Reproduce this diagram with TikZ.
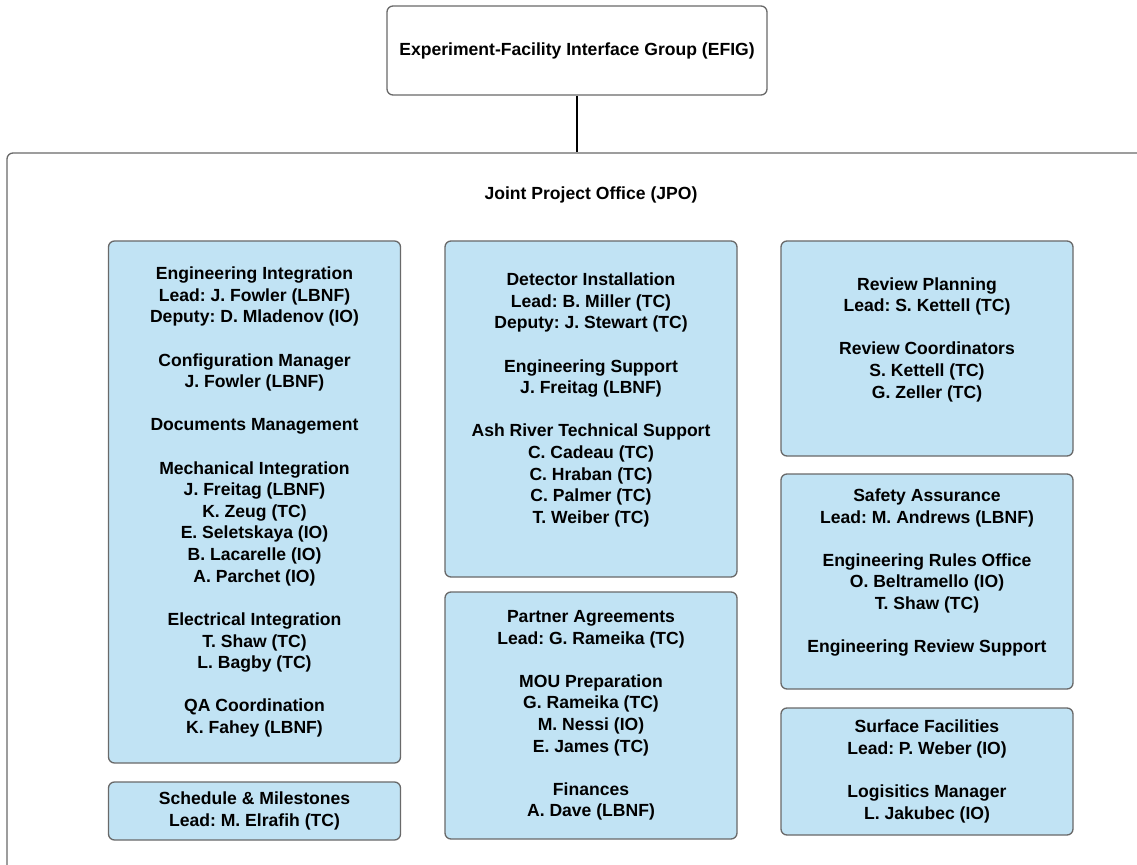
\documentclass[tikz,border=0pt]{standalone}
\usepackage{fontspec}
\setmainfont{Liberation Sans}
\frenchspacing

\definecolor{unitfill}{RGB}{193,227,244}
\definecolor{unitline}{RGB}{105,105,105}

\tikzset{
	unit/.style={draw=unitline, fill=unitfill, rounded corners=3.4pt, line width=0.75pt, inner sep=0pt, align=center, font=\bfseries\fontsize{10}{12.3}\selectfont},
	group/.style={draw=unitline, fill=white, rounded corners=3.4pt, line width=0.75pt, inner sep=0pt, align=center, font=\bfseries\fontsize{10}{12.3}\selectfont},
	title/.style={inner sep=0pt, font=\bfseries\fontsize{10}{12.3}\selectfont}
}

\begin{document}
\begin{tikzpicture}[x=0.02cm, y=-0.02cm]

	\def\pix{0.02cm}
	\def\gap{12.3pt}
	\def\colw{292}
	\def\colA{254.5}
	\def\colB{591}
	\def\colC{927}

	\useasboundingbox (0, 0) rectangle (1137, 865);
	\clip (0, 0) rectangle (1137, 865);

	\node[group, minimum width=380*\pix, minimum height=89*\pix] (efig) at (577, 50.5) {Experiment-Facility Interface Group (EFIG)};
	\node[group, minimum width=1168*\pix, minimum height=747*\pix] (jpo) at (\colB, 526.5) {};
	\node[title] (jpotitle) at (\colB, 195) {Joint Project Office (JPO)};

	\draw[ line width=0.75pt ] (efig.south) -- (efig.south |- jpo.north);

	% left column
	\node[unit, minimum width=\colw*\pix, minimum height=522*\pix] (eng) at (\colA, 502) {Engineering Integration\\Lead: J. Fowler (LBNF)\\Deputy: D. Mladenov (IO)\\[\gap]Configuration Manager\\J. Fowler (LBNF)\\[\gap]Documents Management\\[\gap]Mechanical Integration\\J. Freitag (LBNF)\\K. Zeug (TC)\\E. Seletskaya (IO)\\B. Lacarelle (IO)\\A. Parchet (IO)\\[\gap]Electrical Integration\\T. Shaw (TC)\\L. Bagby (TC)\\[\gap]QA Coordination\\K. Fahey (LBNF)};
	\node[unit, minimum width=\colw*\pix, minimum height=58*\pix] (sched) at (\colA, 811) {Schedule \& Milestones\\Lead: M. Elrafih (TC)};

	% middle column
	\node[unit, minimum width=\colw*\pix, minimum height=336*\pix] (det) at (\colB, 409) {Detector Installation\\Lead: B. Miller (TC)\\Deputy: J. Stewart (TC)\\[\gap]Engineering Support\\J. Freitag (LBNF)\\[\gap]Ash River Technical Support\\C. Cadeau (TC)\\C. Hraban (TC)\\C. Palmer (TC)\\T. Weiber (TC)\\ \phantom{X}};
	\node[unit, minimum width=\colw*\pix, minimum height=247*\pix] (part) at (\colB, 715.5) {Partner Agreements\\Lead: G. Rameika (TC)\\[\gap]MOU Preparation\\G. Rameika (TC)\\M. Nessi (IO)\\E. James (TC)\\[\gap]Finances\\A. Dave (LBNF)};

	% right column
	\node[unit, minimum width=\colw*\pix, minimum height=215*\pix] (rev) at (\colC, 348.5) {Review Planning\\Lead: S. Kettell (TC)\\[\gap]Review Coordinators\\S. Kettell (TC)\\G. Zeller (TC)\\ \phantom{X}};
	\node[unit, minimum width=\colw*\pix, minimum height=215*\pix] (safe) at (\colC, 581.5) {Safety Assurance\\Lead: M. Andrews (LBNF)\\[\gap]Engineering Rules Office\\O. Beltramello (IO)\\T. Shaw (TC)\\[\gap]Engineering Review Support\\ \phantom{X}};
	\node[unit, minimum width=\colw*\pix, minimum height=127*\pix] (surf) at (\colC, 771.5) {Surface Facilities\\Lead: P. Weber (IO)\\[\gap]Logisitics Manager\\L. Jakubec (IO)};

\end{tikzpicture}
\end{document}
